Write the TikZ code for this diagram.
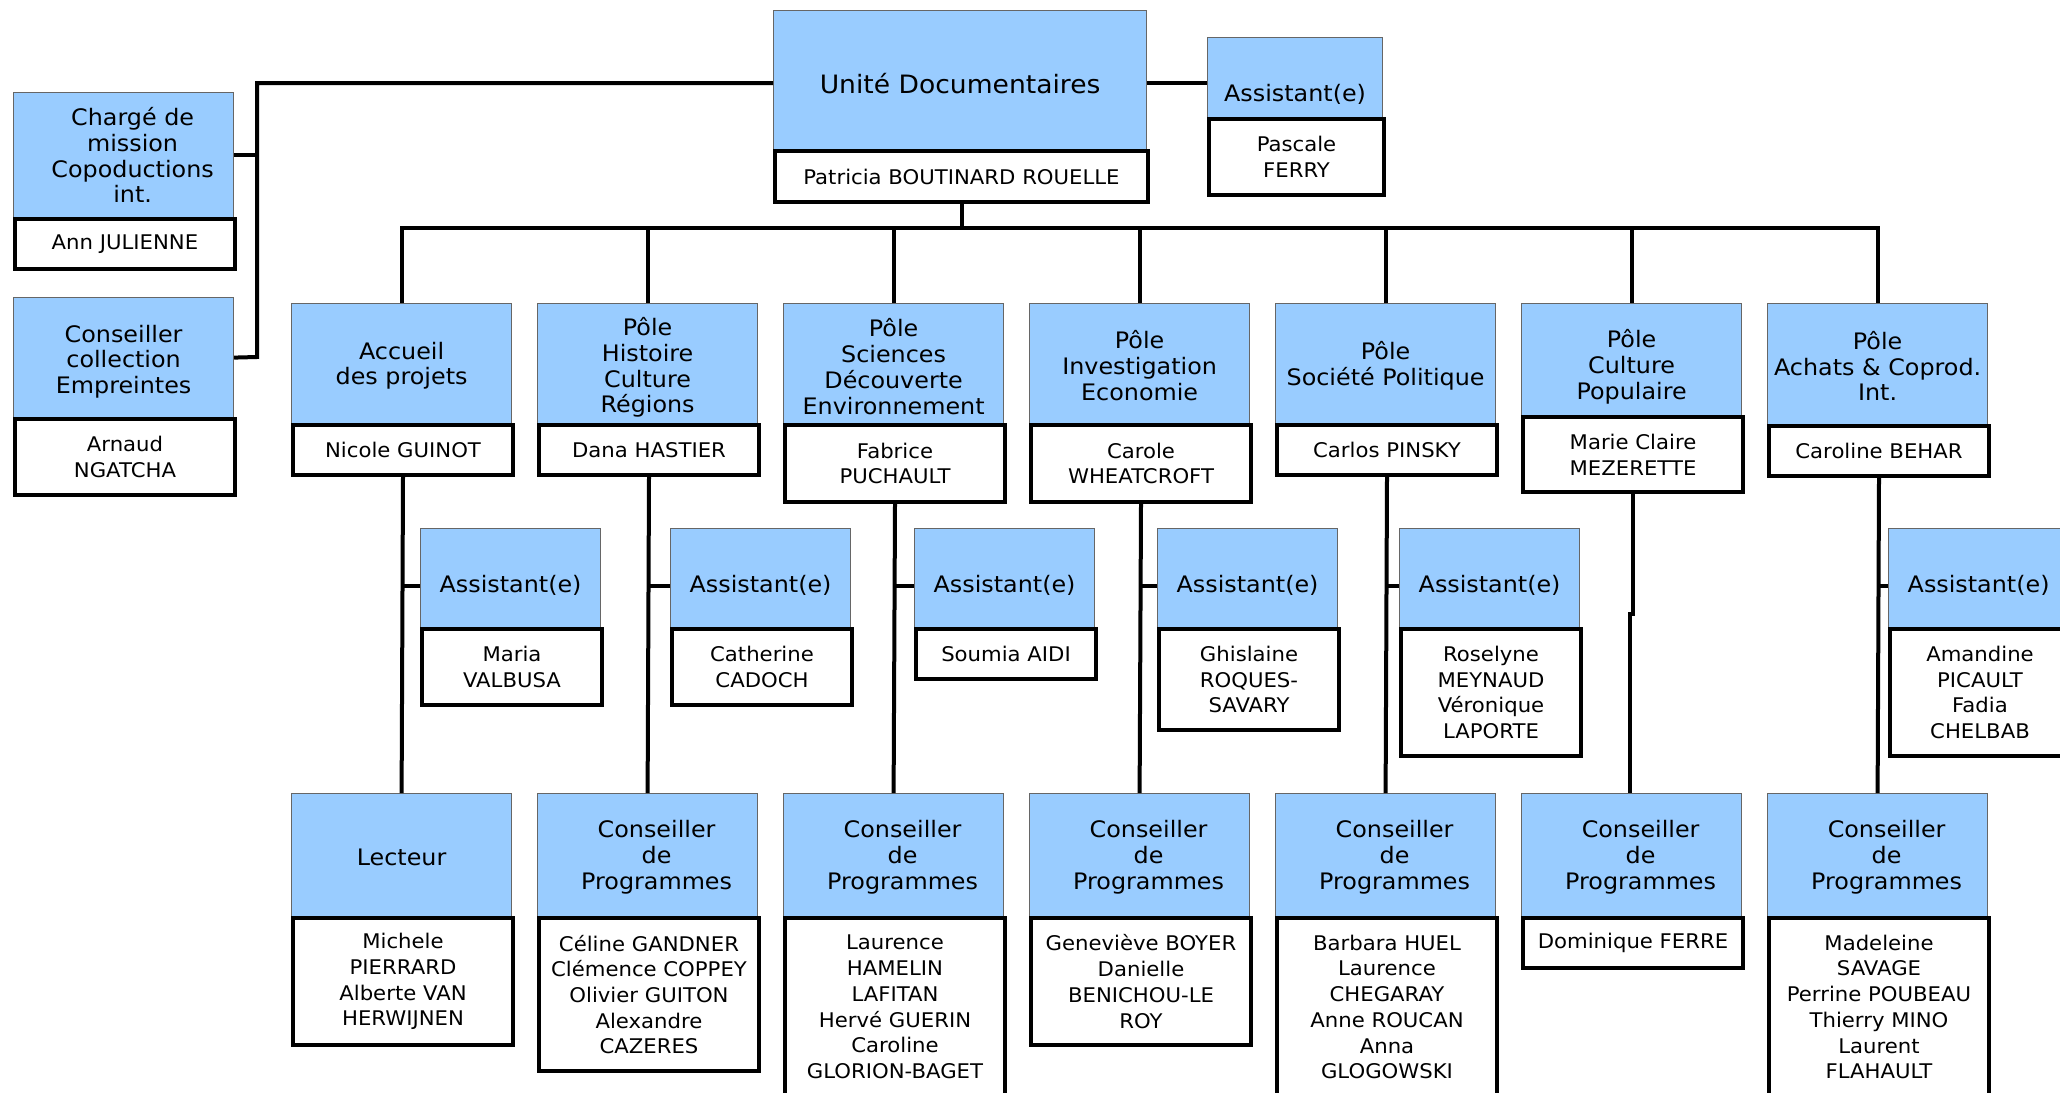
\documentclass[tikz,border=0pt]{standalone}
\usepackage{fontspec}
\newfontfamily\dvs[FakeStretch=1.05]{DejaVu Sans}
\newcommand\ttlfont{\dvs\fontsize{22.7}{25.7}\selectfont}
\newcommand\topfont{\dvs\fontsize{25.3}{28}\selectfont}
\newcommand\nmfont{\dvs\fontsize{20.2}{25.7}\selectfont}
\definecolor{skyb}{RGB}{153,204,255}
\tikzset{
  bb/.style={draw=black!60, line width=1.2pt, fill=skyb, inner sep=0pt, anchor=north west},
  tl/.style={align=center, font=\ttlfont, inner sep=0pt},
  nb/.style={draw=black, line width=4pt, fill=white, inner sep=0pt, anchor=north west, align=center, font=\nmfont},
  conn/.style={draw=black, line width=4pt, line join=miter},
}
\newcommand\bluebox[7]{\node[bb, minimum width=#4pt, minimum height=#5pt, label={[tl,#6]center:{#7}}] (#1) at (#2,#3) {};}
\newcommand\namebox[6]{\node[nb, minimum width=#4pt, minimum height=#5pt] (#1) at (#2,#3) {#6};}
\begin{document}
\begin{tikzpicture}[x=1pt, y=-1pt]
\useasboundingbox (0,0) rectangle (2060,1092);
\clip (0,0) rectangle (2060,1092);
\fill[white] (0,0) rectangle (2060,1092);

% top
\bluebox{top}{773}{10}{373}{139}{font=\topfont,yshift=-3.5pt}{Unité Documentaires}
\namebox{topn}{773}{149}{373}{51}{Patricia BOUTINARD ROUELLE}
\bluebox{ta}{1207}{37}{175}{80}{yshift=-17pt}{Assistant(e)}
\namebox{tan}{1207}{117}{175}{76}{Pascale\\FERRY}

% left
\bluebox{ch}{13}{92}{220}{125}{xshift=9pt}{Chargé de\\mission\\Copoductions\\int.}
\namebox{chn}{13}{217}{220}{50}{Ann JULIENNE}
\bluebox{cc}{13}{297}{220}{120}{yshift=-4pt}{Conseiller\\collection\\Empreintes}
\namebox{ccn}{13}{417}{220}{76}{Arnaud\\NGATCHA}

% poles
\bluebox{p1}{291}{303}{220}{120}{yshift=-2pt}{Accueil\\des projets}
\namebox{pn1}{291}{423}{220}{50}{Nicole GUINOT}
\bluebox{p2}{537}{303}{220}{120}{yshift=-4pt}{Pôle\\Histoire\\Culture\\Régions}
\namebox{pn2}{537}{423}{220}{50}{Dana HASTIER}
\bluebox{p3}{783}{303}{220}{120}{yshift=-3pt}{Pôle\\Sciences\\Découverte\\Environnement}
\namebox{pn3}{783}{423}{220}{77}{Fabrice\\PUCHAULT}
\bluebox{p4}{1029}{303}{220}{120}{yshift=-2pt}{Pôle\\Investigation\\Economie}
\namebox{pn4}{1029}{423}{220}{77}{Carole\\WHEATCROFT}
\bluebox{p5}{1275}{303}{220}{120}{yshift=-2pt}{Pôle\\Société Politique}
\namebox{pn5}{1275}{423}{220}{50}{Carlos PINSKY}
\bluebox{p6}{1521}{303}{220}{112}{yshift=-7pt}{Pôle\\Culture\\Populaire}
\namebox{pn6}{1521}{415}{220}{75}{Marie Claire\\MEZERETTE}
\bluebox{p7}{1767}{303}{220}{121}{yshift=-2pt}{Pôle\\Achats \& Coprod.\\Int.}
\namebox{pn7}{1767}{424}{220}{50}{Caroline BEHAR}

% assistants
\bluebox{a1}{420}{528}{180}{99}{yshift=-7pt}{Assistant(e)}
\namebox{an1}{420}{627}{180}{76}{Maria\\VALBUSA}
\bluebox{a2}{670}{528}{180}{99}{yshift=-7pt}{Assistant(e)}
\namebox{an2}{670}{627}{180}{76}{Catherine\\CADOCH}
\bluebox{a3}{914}{528}{180}{99}{yshift=-7pt}{Assistant(e)}
\namebox{an3}{914}{627}{180}{50}{Soumia AIDI}
\bluebox{a4}{1157}{528}{180}{99}{yshift=-7pt}{Assistant(e)}
\namebox{an4}{1157}{627}{180}{101}{Ghislaine\\ROQUES-\\SAVARY}
\bluebox{a5}{1399}{528}{180}{99}{yshift=-7pt}{Assistant(e)}
\namebox{an5}{1399}{627}{180}{127}{Roselyne\\MEYNAUD\\Véronique\\LAPORTE}
\bluebox{a7}{1888}{528}{180}{99}{yshift=-7pt}{Assistant(e)}
\namebox{an7}{1888}{627}{180}{127}{Amandine\\PICAULT\\Fadia\\CHELBAB}

% row 3
\bluebox{c1}{291}{793}{220}{123}{yshift=-2pt}{Lecteur}
\namebox{cn1}{291}{916}{220}{127}{Michele\\PIERRARD\\Alberte VAN\\HERWIJNEN}
\bluebox{c2}{537}{793}{220}{123}{xshift=9pt,yshift=-2pt}{Conseiller\\de\\Programmes}
\namebox{cn2}{537}{916}{220}{153}{Céline GANDNER\\Clémence COPPEY\\Olivier GUITON\\Alexandre\\CAZERES}
\bluebox{c3}{783}{793}{220}{123}{xshift=9pt,yshift=-2pt}{Conseiller\\de\\Programmes}
\namebox{cn3}{783}{916}{220}{178}{Laurence\\HAMELIN\\LAFITAN\\Hervé GUERIN\\Caroline\\GLORION-BAGET}
\bluebox{c4}{1029}{793}{220}{123}{xshift=9pt,yshift=-2pt}{Conseiller\\de\\Programmes}
\namebox{cn4}{1029}{916}{220}{127}{Geneviève BOYER\\Danielle\\BENICHOU-LE\\ROY}
\bluebox{c5}{1275}{793}{220}{123}{xshift=9pt,yshift=-2pt}{Conseiller\\de\\Programmes}
\namebox{cn5}{1275}{916}{220}{178}{Barbara HUEL\\Laurence\\CHEGARAY\\Anne ROUCAN\\Anna\\GLOGOWSKI}
\bluebox{c6}{1521}{793}{220}{123}{xshift=9pt,yshift=-2pt}{Conseiller\\de\\Programmes}
\namebox{cn6}{1521}{916}{220}{50}{Dominique FERRE}
\bluebox{c7}{1767}{793}{220}{123}{xshift=9pt,yshift=-2pt}{Conseiller\\de\\Programmes}
\namebox{cn7}{1767}{916}{220}{178}{Madeleine\\SAVAGE\\Perrine POUBEAU\\Thierry MINO\\Laurent\\FLAHAULT}

% connectors
\coordinate (bus) at (0,228);
\coordinate (lb) at (257,357);
\draw[conn] ([yshift=-3pt]top.west) -| (lb) -- (cc.east);
\draw[conn] (ch.east) -- (ch.east -| lb);
\draw[conn] ([yshift=-3pt]top.east) -- ([yshift=-3pt]top.east -| ta.west);
\draw[conn] (topn.south) -- (topn.south |- bus);
\draw[conn] (p1.north) |- (p7.north |- bus) -- (p7.north);
\foreach \k in {2,...,6} \draw[conn] (p\k.north) -- (p\k.north |- bus);
\foreach \k in {1,2,3,4,5,7} {
  \draw[conn] (pn\k.south) -- (c\k.north);
  \draw[conn] ([yshift=-8pt]a\k.west) -- ([yshift=-8pt]a\k.west -| pn\k.south);
}
\draw[conn] (pn6.south) -- ++(0,120) -| ([xshift=-2pt]c6.north);
\end{tikzpicture}
\end{document}
